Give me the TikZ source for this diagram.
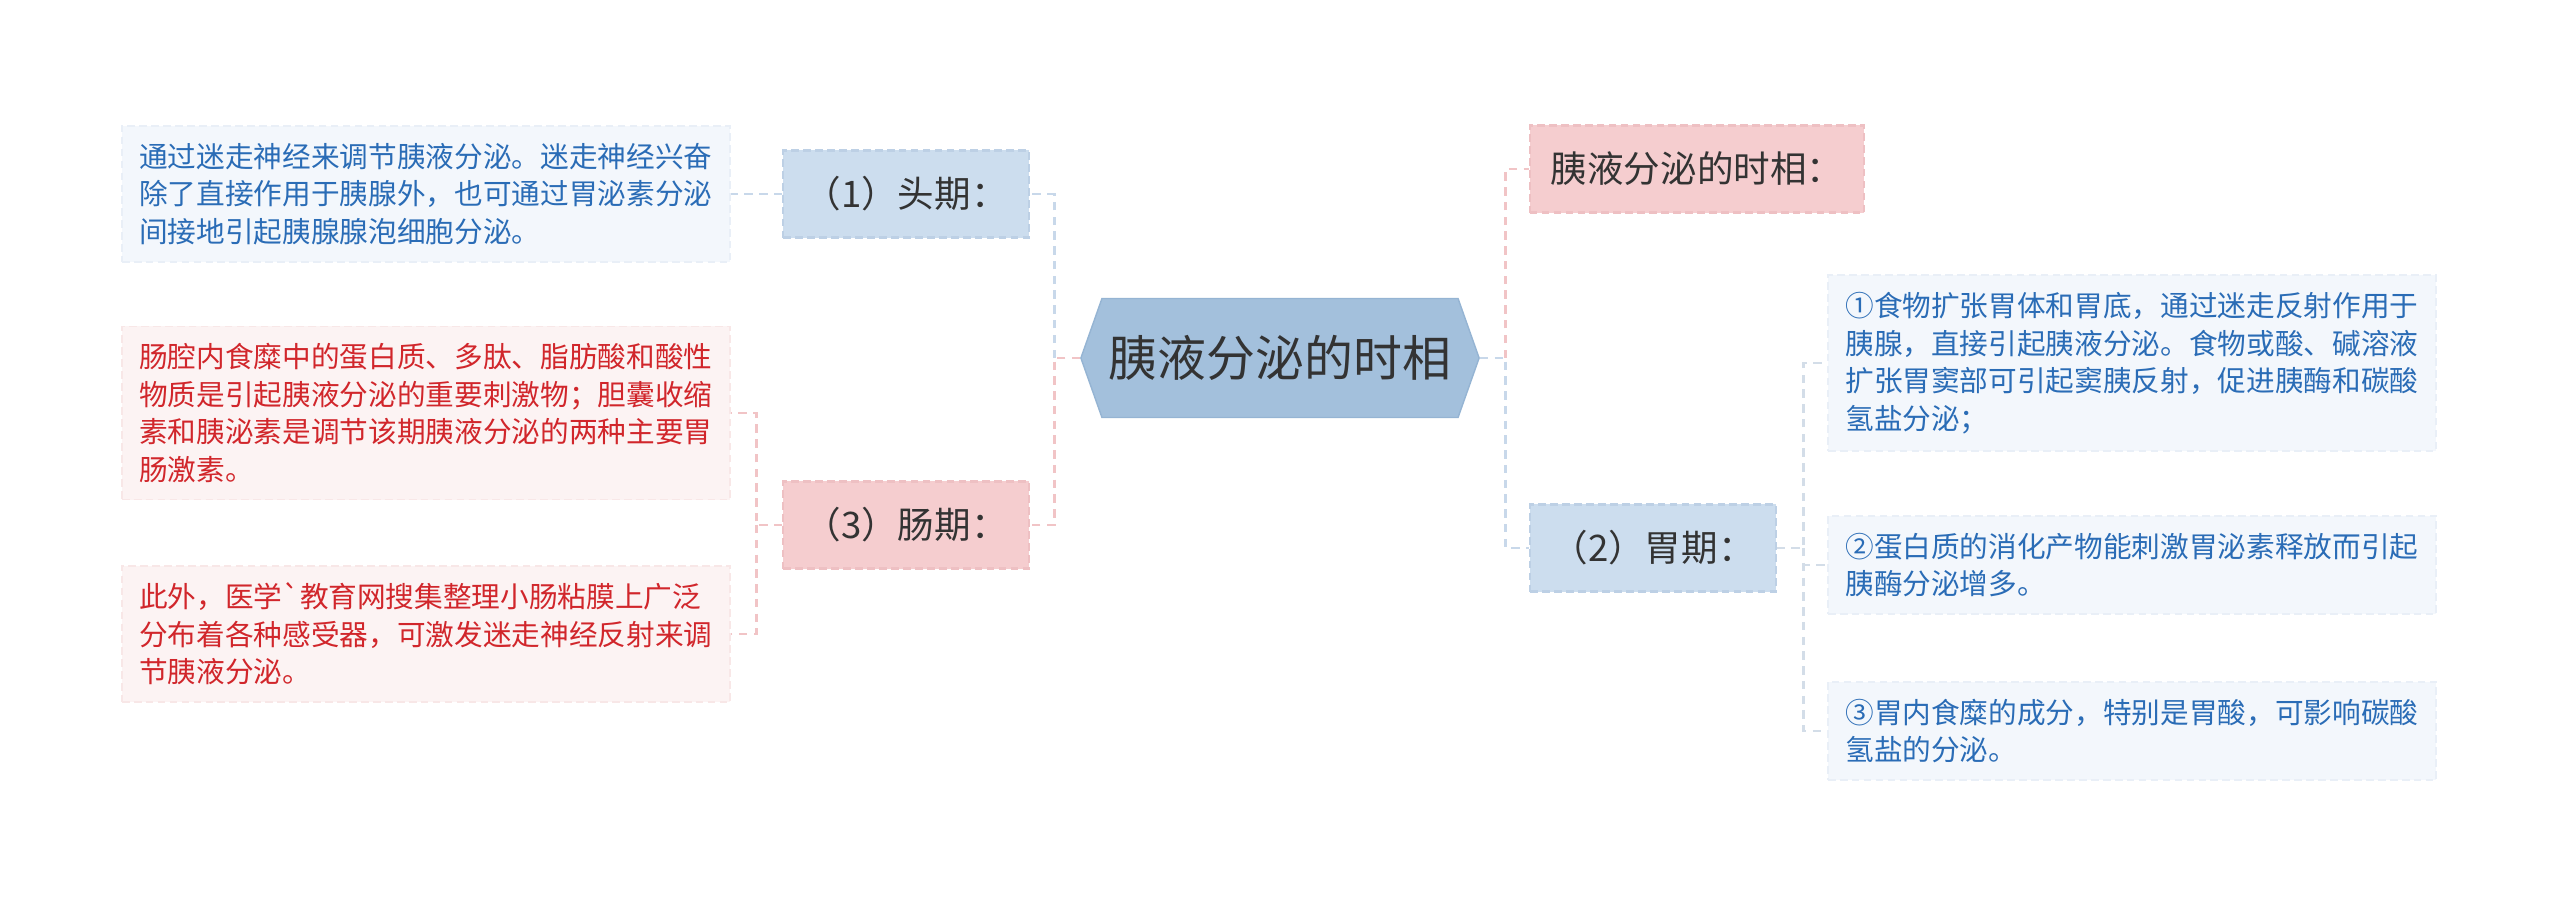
\documentclass[tikz,border=0pt]{standalone}
\usepackage{fontspec}
\setmainfont{Noto Sans CJK SC}
\setmonofont{Noto Sans CJK SC}
\usepackage{xcolor}
\usetikzlibrary{shapes.symbols, calc}
\definecolor{rootfill}{HTML}{A3C0DC}
\definecolor{rootline}{HTML}{95B4D3}
\definecolor{subblue}{HTML}{CCDDEE}
\definecolor{subblueline}{HTML}{BDD0E5}
\definecolor{subpink}{HTML}{F5CDCF}
\definecolor{subpinkline}{HTML}{EEC0C3}
\definecolor{leafblue}{HTML}{F3F7FC}
\definecolor{leafblueline}{HTML}{E9EFF7}
\definecolor{leafpink}{HTML}{FCF3F3}
\definecolor{leafpinkline}{HTML}{F8E7E7}
\definecolor{inkblue}{HTML}{2A6CB6}
\definecolor{inkred}{HTML}{D1262B}
\definecolor{linkblue}{HTML}{C8D8EA}
\definecolor{linkpink}{HTML}{F1C4C6}
\definecolor{linkgray}{HTML}{D3DDE8}
\definecolor{ink}{HTML}{333333}

\begin{document}
\begin{tikzpicture}[x=0.01cm, y=-0.01cm,
  rootbox/.style={shape=signal, signal to=west and east, signal pointer angle=141,
    fill=rootfill, draw=rootline, line width=0.4pt, minimum width=3.98cm,
    minimum height=1.19cm, inner sep=0pt, text=ink, font=\fontsize{13.9}{16}\selectfont},
  subbox/.style={rectangle, dash pattern=on 2.2pt off 1.2pt, line width=0.6pt,
    minimum width=2.45cm, minimum height=0.87cm, inner xsep=0.21cm, text=ink,
    font=\fontsize{10.4}{12}\selectfont},
  subblue/.style={subbox, fill=subblue, draw=subblueline},
  subpink/.style={subbox, fill=subpink, draw=subpinkline},
  leaf/.style={rectangle, text width=5.73cm, inner xsep=0.175cm, inner ysep=0.17cm,
    align=left, dash pattern=on 2.2pt off 1.2pt, line width=0.5pt,
    font=\fontsize{8.15}{10.67}\selectfont},
  leafb/.style={leaf, fill=leafblue, draw=leafblueline, text=inkblue},
  leafr/.style={leaf, fill=leafpink, draw=leafpinkline, text=inkred},
  bluelink/.style={draw=linkblue, line width=0.8pt, dash pattern=on 2.4pt off 1.8pt},
  pinklink/.style={draw=linkpink, line width=0.8pt, dash pattern=on 2.4pt off 1.8pt},
  graylink/.style={draw=linkgray, line width=0.8pt, dash pattern=on 2.4pt off 1.8pt}]
  \useasboundingbox (0,0) rectangle (2560,907);

  \node[rootbox] (root) at (1280,358) {胰液分泌的时相};

  % first level
  \node[subblue] (head) at (906,194) {（1）头期：};
  \node[subpink] (intest) at (906,525) {（3）肠期：};
  \node[subpink] (phase) at (1697,169) {胰液分泌的时相：};
  \node[subblue] (gastric) at (1653,548) {（2）胃期：};

  % leaves
  \node[leafb] (headtxt) at (426,194) {通过迷走神经来调节胰液分泌。迷走神经兴奋\\除了直接作用于胰腺外，也可通过胃泌素分泌\\间接地引起胰腺腺泡细胞分泌。};
  \node[leafr] (int1) at (426,413) {肠腔内食糜中的蛋白质、多肽、脂肪酸和酸性\\物质是引起胰液分泌的重要刺激物；胆囊收缩\\素和胰泌素是调节该期胰液分泌的两种主要胃\\肠激素。};
  \node[leafr] (int2) at (426,634) {此外，医学{\ttfamily `}教育网搜集整理小肠粘膜上广泛\\分布着各种感受器，可激发迷走神经反射来调\\节胰液分泌。};
  \node[leafb] (gas1) at (2132,363) {①食物扩张胃体和胃底，通过迷走反射作用于\\胰腺，直接引起胰液分泌。食物或酸、碱溶液\\扩张胃窦部可引起窦胰反射，促进胰酶和碳酸\\氢盐分泌；};
  \node[leafb] (gas2) at (2132,565) {②蛋白质的消化产物能刺激胃泌素释放而引起\\胰酶分泌增多。};
  \node[leafb] (gas3) at (2132,731) {③胃内食糜的成分，特别是胃酸，可影响碳酸\\氢盐的分泌。};

  % connectors
  \coordinate (lj) at ($(root.west)+(-26,0)$);
  \coordinate (rj) at ($(root.east)+(26,0)$);
  \coordinate (ij) at ($(intest.west)+(-26,0)$);
  \coordinate (gj) at ($(gastric.east)+(27,0)$);
  \draw[bluelink] (lj) |- (head.east);
  \draw[pinklink] (root.west) -- (lj) |- (intest.east);
  \draw[pinklink] (rj) |- (phase.west);
  \draw[bluelink] (root.east) -- (rj) |- (gastric.west);
  \draw[bluelink] (head.west) -- (headtxt.east);
  \draw[pinklink] (intest.west) -- (ij) |- (int1.east);
  \draw[pinklink] (ij) |- (int2.east);
  \draw[graylink] (gastric.east) -- (gj) |- (gas1.west);
  \draw[graylink] (gj) |- (gas2.west);
  \draw[graylink] (gj) |- (gas3.west);
\end{tikzpicture}
\end{document}
